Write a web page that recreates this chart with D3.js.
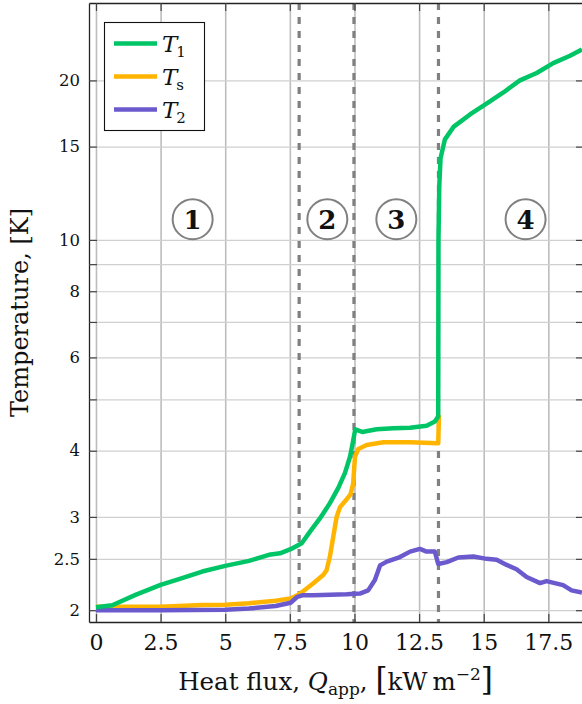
<!DOCTYPE html>
<html>
<head>
<meta charset="utf-8">
<script src="https://cdn.jsdelivr.net/npm/d3@7"></script>
<style>
  body { margin: 0; background: #fff; }
  svg { display: block; }
</style>
</head>
<body>
<svg id="chart" width="582" height="704"></svg>
<script>
// Applied heat flux (kW m^-2) and measured temperatures (K)
const t1Flux = [0, 0.63, 1.53, 2.5, 3.21, 4.11, 5.0, 5.92, 6.69, 7.12, 7.53, 7.96, 8.28, 8.67, 9.05, 9.37, 9.63, 9.83, 9.93, 10.03, 10.3, 10.86, 11.5, 12.15, 12.79, 13.11, 13.24, 13.25, 13.28, 13.33, 13.5, 13.83, 14.47, 15.11, 15.76, 16.4, 17.05, 17.69, 18.34, 18.8];
const t1Temp = [2.026, 2.044, 2.138, 2.232, 2.289, 2.366, 2.425, 2.478, 2.544, 2.561, 2.607, 2.676, 2.814, 2.983, 3.185, 3.40, 3.63, 3.90, 4.13, 4.39, 4.34, 4.39, 4.41, 4.42, 4.46, 4.54, 4.64, 10.0, 12.6, 14.26, 15.48, 16.34, 17.25, 18.09, 18.98, 20.0, 20.66, 21.56, 22.26, 22.88];

const tsFlux = [0, 2.5, 4.11, 5.0, 5.92, 6.95, 7.53, 7.79, 7.98, 8.41, 8.79, 8.92, 9.05, 9.18, 9.31, 9.44, 9.70, 9.85, 9.95, 10.02, 10.15, 10.47, 11.12, 12.15, 13.24, 13.27];
const tsTemp = [2.03, 2.03, 2.046, 2.049, 2.061, 2.084, 2.105, 2.134, 2.165, 2.249, 2.33, 2.38, 2.525, 2.754, 3.0, 3.13, 3.24, 3.31, 3.47, 3.90, 4.03, 4.10, 4.15, 4.15, 4.13, 4.67];

const t2Flux = [0, 2.5, 5.0, 5.92, 6.95, 7.53, 7.79, 7.98, 8.41, 9.7, 10.21, 10.53, 10.79, 10.99, 11.25, 11.76, 12.15, 12.53, 12.79, 13.11, 13.24, 13.57, 14.02, 14.6, 15.11, 15.5, 15.89, 16.27, 16.66, 17.18, 17.43, 18.07, 18.4, 18.8];
const t2Temp = [2.0, 2.0, 2.003, 2.014, 2.037, 2.066, 2.12, 2.134, 2.134, 2.143, 2.15, 2.18, 2.28, 2.43, 2.47, 2.52, 2.58, 2.61, 2.58, 2.58, 2.445, 2.465, 2.515, 2.525, 2.50, 2.49, 2.435, 2.39, 2.31, 2.25, 2.27, 2.23, 2.18, 2.16];

// Regime boundaries and regime markers
const boundaryFlux = [7.86, 9.98, 13.25];
const regimeLabels = ["1", "2", "3", "4"];
const regimeFlux = [3.74, 8.95, 11.62, 16.62];
const regimeTemp = [10.94, 10.94, 10.94, 10.94];

// Axis ticks
const xTicks = [0, 2.5, 5, 7.5, 10, 12.5, 15, 17.5];
const xTickLabels = ["0", "2.5", "5", "7.5", "10", "12.5", "15", "17.5"];
const yTicks = [2, 2.5, 3, 4, 5, 6, 7, 8, 9, 10, 15, 20];
const yTickLabels = [2, 2.5, 3, 4, 6, 8, 10, 15, 20];

const seriesNames = ["T1", "Ts", "T2"];
const seriesColors = { T1: "#00c566", Ts: "#ffb500", T2: "#6a5acd" };

(function draw() {
  const pL = 89, pR = 584, pT = 3, pB = 622;
  const serif = "DejaVu Serif, Liberation Serif, serif";

  const svg = d3.select("#chart");

  const x = d3.scaleLinear().domain([-0.27, 18.88]).range([pL, pR]);
  const y = d3.scaleLog().domain([1.9, 28]).range([pB, pT]);

  svg.append("defs").append("clipPath").attr("id", "plotClip")
    .append("rect").attr("x", pL).attr("y", pT)
    .attr("width", pR - pL).attr("height", pB - pT);

  // Grid
  const grid = svg.append("g");
  grid.append("g")
    .attr("transform", `translate(0,${pB})`)
    .call(d3.axisBottom(x).tickValues(xTicks).tickSize(-(pB - pT)).tickFormat(""))
    .call(g => g.select(".domain").remove())
    .call(g => g.selectAll("line").attr("stroke", "#bdbdbd").attr("stroke-width", 1.6));
  grid.append("g")
    .attr("transform", `translate(${pL},0)`)
    .call(d3.axisLeft(y).tickValues(yTicks).tickSize(-(pR - pL)).tickFormat(""))
    .call(g => g.select(".domain").remove())
    .call(g => g.selectAll("line").attr("stroke", "#d0d0d0").attr("stroke-width", 1.2));

  // Regime boundaries
  svg.append("g").selectAll("line").data(boundaryFlux).join("line")
    .attr("x1", d => x(d)).attr("x2", d => x(d))
    .attr("y1", pT).attr("y2", pB)
    .attr("stroke", "#808080").attr("stroke-width", 3.2)
    .attr("stroke-dasharray", "7,7");

  // Axes frame with inward ticks
  function styleAxis(g) {
    g.attr("font-family", serif);
    g.select(".domain").attr("stroke", "#222").attr("stroke-width", 1.3);
    g.selectAll(".tick line").attr("stroke", "#444").attr("stroke-width", 1.2);
    g.selectAll("text").attr("fill", "#111");
  }
  const xAxis = svg.append("g").attr("transform", `translate(0,${pB})`)
    .call(d3.axisBottom(x).tickValues(xTicks).tickSize(-8).tickSizeOuter(0)
      .tickFormat((d, i) => xTickLabels[i]))
    .call(styleAxis);
  xAxis.attr("font-size", 22);
  xAxis.selectAll("text").attr("y", 28).attr("dy", 0);

  svg.append("g").attr("transform", `translate(0,${pT})`)
    .call(d3.axisTop(x).tickValues(xTicks).tickSize(-8).tickSizeOuter(0).tickFormat(""))
    .call(styleAxis);

  const yAxis = svg.append("g").attr("transform", `translate(${pL},0)`)
    .call(d3.axisLeft(y).tickValues(yTicks).tickSize(-8).tickSizeOuter(0).tickPadding(9)
      .tickFormat(d => yTickLabels.includes(d) ? String(d) : ""))
    .call(styleAxis);
  yAxis.attr("font-size", 16.5);

  svg.append("g").attr("transform", `translate(${pR},0)`)
    .call(d3.axisRight(y).tickValues(yTicks).tickSize(-8).tickSizeOuter(0).tickFormat(""))
    .call(styleAxis);

  // Curves
  const plot = svg.append("g").attr("clip-path", "url(#plotClip)");
  const line = d3.line().x(d => x(d[0])).y(d => y(d[1])).curve(d3.curveLinear);
  const series = {
    T1: d3.zip(t1Flux, t1Temp),
    Ts: d3.zip(tsFlux, tsTemp),
    T2: d3.zip(t2Flux, t2Temp)
  };
  ["Ts", "T2", "T1"].forEach(k => {
    plot.append("path").datum(series[k])
      .attr("d", line)
      .attr("fill", "none")
      .attr("stroke", seriesColors[k])
      .attr("stroke-width", 4.5)
      .attr("stroke-linejoin", "round")
      .attr("stroke-linecap", "butt");
  });

  // Regime markers
  const marks = svg.append("g").attr("font-family", serif);
  regimeLabels.forEach((lab, i) => {
    const cx = x(regimeFlux[i]), cy = y(regimeTemp[i]);
    marks.append("circle").attr("cx", cx).attr("cy", cy).attr("r", 20)
      .attr("fill", "#fff").attr("stroke", "#808080").attr("stroke-width", 2);
    marks.append("text").attr("x", cx).attr("y", cy + 9.5)
      .attr("text-anchor", "middle")
      .attr("font-weight", "bold").attr("font-size", 26).attr("fill", "#111")
      .text(lab);
  });

  // Legend
  const legend = svg.append("g").attr("font-family", serif);
  legend.append("rect").attr("x", 104.5).attr("y", 22.5).attr("width", 100).attr("height", 108)
    .attr("fill", "#fff").attr("stroke", "#111").attr("stroke-width", 1.1);
  const legendSub = { T1: "1", Ts: "s", T2: "2" };
  seriesNames.forEach((k, i) => {
    const ly = 43.5 + i * 33;
    legend.append("line").attr("x1", 114).attr("x2", 157).attr("y1", ly).attr("y2", ly)
      .attr("stroke", seriesColors[k]).attr("stroke-width", 4.5);
    const t = legend.append("text").attr("x", 162).attr("y", ly + 8)
      .attr("font-size", 23).attr("fill", "#111");
    t.append("tspan").attr("font-style", "italic").text("T");
    t.append("tspan").attr("font-size", 15).attr("dx", -1).attr("dy", 5).text(legendSub[k]);
  });

  // Axis titles
  const xt = svg.append("text").attr("x", (pL + pR) / 2 - 1).attr("y", 690)
    .attr("text-anchor", "middle").attr("font-family", serif).attr("font-size", 24.5).attr("fill", "#111");
  xt.append("tspan").text("Heat flux, ");
  xt.append("tspan").attr("font-style", "italic").text("Q");
  xt.append("tspan").attr("font-size", 17).attr("dy", 5).text("app");
  xt.append("tspan").attr("dy", -5).text(", ");
  xt.append("tspan").attr("font-size", 31).text("[");
  xt.append("tspan").text("kW\u2009m");
  xt.append("tspan").attr("font-size", 17).attr("dy", -10).text("\u22122");
  xt.append("tspan").attr("font-size", 31).attr("dy", 10).text("]");

  svg.append("text")
    .attr("transform", `translate(28,${(pT + pB) / 2}) rotate(-90)`)
    .attr("text-anchor", "middle").attr("font-family", serif).attr("font-size", 24).attr("fill", "#111")
    .text("Temperature, [K]");
})();
</script>
</body>
</html>
